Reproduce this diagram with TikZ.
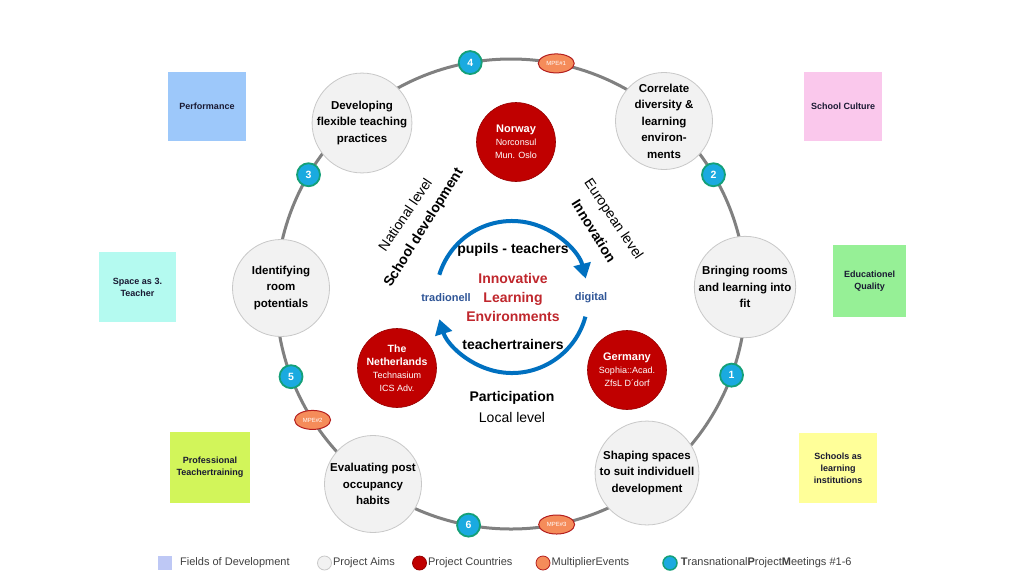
\documentclass[tikz,border=0pt]{standalone}
\usepackage{fontspec}
\setmainfont{Liberation Sans}
\usetikzlibrary{positioning,arrows.meta,shapes.geometric}

\definecolor{ringgray}{RGB}{128,128,128}
\definecolor{aimfill}{RGB}{242,242,242}
\definecolor{aimedge}{RGB}{200,200,200}
\definecolor{landred}{RGB}{192,0,0}
\definecolor{landedge}{RGB}{150,0,0}
\definecolor{cycleblue}{RGB}{0,112,192}
\definecolor{ilered}{RGB}{192,39,45}
\definecolor{poleblue}{RGB}{47,85,151}
\definecolor{tpmfill}{RGB}{26,170,224}
\definecolor{tpmedge}{RGB}{20,160,120}
\definecolor{mpefill}{RGB}{245,140,90}
\definecolor{mpeedge}{RGB}{180,30,30}
\definecolor{fieldtext}{RGB}{25,25,50}
\definecolor{legendtext}{RGB}{64,64,64}
\definecolor{perfblue}{RGB}{157,200,250}
\definecolor{cultpink}{RGB}{250,200,236}
\definecolor{spacecyan}{RGB}{180,250,240}
\definecolor{qualgreen}{RGB}{150,240,150}
\definecolor{proflime}{RGB}{210,245,90}
\definecolor{schoolyellow}{RGB}{255,255,153}
\definecolor{legfield}{RGB}{190,200,245}

\newcommand{\fs}[2]{\fontsize{#1}{#2}\selectfont}

\begin{document}
\begin{tikzpicture}[x=1pt, y=-1pt,
  aim/.style={circle, fill=aimfill, draw=aimedge, line width=0.8pt, minimum size=97pt,
    inner sep=0pt, align=center, font=\fs{11.5}{16.5}\bfseries},
  land/.style={circle, fill=landred, draw=landedge, line width=0.6pt, minimum size=79pt,
    inner sep=0pt, align=center, text=white, font=\fs{9}{13}},
  tpm/.style={circle, fill=tpmfill, draw=tpmedge, line width=1.8pt, minimum size=23pt,
    inner sep=0pt, text=white, font=\fs{10.5}{11}\bfseries},
  mpe/.style={ellipse, fill=mpefill, draw=mpeedge, line width=1pt, minimum width=36pt,
    minimum height=19pt, inner sep=0pt, text=white, font=\fs{6}{6}},
  field/.style={rectangle, inner sep=0pt, align=center, text=fieldtext, font=\fs{9}{12}\bfseries},
  cycle/.style={cycleblue, line width=4pt, -{Triangle[length=15pt, width=17pt]}},
  level/.style={font=\fs{14}{16}, inner sep=0pt},
  levelbf/.style={font=\fs{14}{16}\bfseries, inner sep=0pt},
  legtxt/.style={text=legendtext, font=\fs{11}{13}, inner sep=0pt, anchor=west},
  legdot/.style={circle, minimum size=14pt, inner sep=0pt, line width=0.8pt},
]
  \useasboundingbox[fill=white] (0,0) rectangle (1024,576);
  \def\Rad{235}

  % --- outer ring ---
  \coordinate (ringc) at (511,294);
  \draw[ringgray, line width=3pt] (ringc) circle (\Rad);

  % --- fields of development ---
  \node[field, fill=perfblue, minimum width=78pt, minimum height=69pt] (fperf) at (207,106.5) {Performance};
  \node[field, fill=cultpink, minimum width=78pt, minimum height=69pt] (fcult) at (843,106.5) {School Culture};
  \node[field, fill=spacecyan, minimum width=77pt, minimum height=70pt] (fspace) at (137.5,287) {Space as 3.\\Teacher};
  \node[field, fill=qualgreen, minimum width=73pt, minimum height=72pt] (fqual) at (869.5,281) {Educationel\\Quality};
  \node[field, fill=proflime, minimum width=80pt, minimum height=71pt] (fprof) at (210,467.5) {Professional\\Teachertraining};
  \node[field, fill=schoolyellow, minimum width=78pt, minimum height=70pt] (fschool) at (838,468) {Schools as\\learning\\institutions};

  % --- project aims ---
  \node[aim] (aimdev)   at (362,123) {Developing\\flexible teaching\\practices};
  \node[aim] (aimcorr)  at (664,121) {Correlate\\diversity \&\\learning\\environ-\\ments};
  \node[aim] (aimfit)   at (745,287) {Bringing rooms\\and learning into\\fit};
  \node[aim] (aimshape) at (647,473) {Shaping spaces\\to suit individuell\\development};
  \node[aim] (aimeval)  at (373,484) {Evaluating post\\occupancy\\habits};
  \node[aim] (aimroom)  at (281,288) {Identifying\\room\\potentials};

  % --- transnational project meetings ---
  \node[tpm] (tpm1) at ([shift={(20.2:\Rad)}]ringc) {1};
  \node[tpm] (tpm2) at ([shift={(-30.5:\Rad)}]ringc) {2};
  \node[tpm] (tpm3) at ([shift={(-149.5:\Rad)}]ringc) {3};
  \node[tpm] (tpm4) at ([shift={(-100:\Rad)}]ringc) {4};
  \node[tpm] (tpm5) at ([shift={(159.4:\Rad)}]ringc) {5};
  \node[tpm] (tpm6) at ([shift={(100.4:\Rad)}]ringc) {6};

  % --- multiplier events ---
  \node[mpe] (mpe1) at ([shift={(-78.9:\Rad)}]ringc) {MPE\#1};
  \node[mpe] (mpe2) at ([shift={(147.6:\Rad)}]ringc) {MPE\#2};
  \node[mpe] (mpe3) at ([shift={(78.8:\Rad)}]ringc) {MPE\#3};

  % --- project countries ---
  \node[land] (norway) at (516,142)
    {{\fs{11}{14}\bfseries Norway}\\Norconsul\\Mun. Oslo};
  \node[land] (nether) at (397,368)
    {{\fs{10.5}{14}\bfseries The}\\{\fs{10.5}{14}\bfseries Netherlands}\\Technasium\\ICS Adv.};
  \node[land] (germany) at (627,370)
    {{\fs{11}{14}\bfseries Germany}\\Sophia::Acad.\\ZfsL D´dorf};

  % --- innovation cycle ---
  \coordinate (cyc) at (512,297);
  \draw[cycle] ([shift={(-163:76)}]cyc) arc[start angle=-163, end angle=-14, radius=76];
  \draw[cycle] ([shift={(15:76)}]cyc) arc[start angle=15, end angle=163, radius=76];

  \node[align=center, text=ilered, font=\fs{14}{19}\bfseries] (ile) at (513,297)
    {Innovative\\Learning\\Environments};
  \node[levelbf] (pupils) at (513,250) {pupils - teachers};
  \node[levelbf] (trainers) at (513,344) {teachertrainers};
  \node[text=poleblue, font=\fs{11}{13}\bfseries, inner sep=0pt] (trad) at (446,298) {tradionell};
  \node[text=poleblue, font=\fs{11}{13}\bfseries, inner sep=0pt] (digit) at (591,298) {digital};

  % --- levels ---
  \node[level, rotate=56] (natl) at (405,214.5) {National level};
  \node[levelbf, rotate=58] (schooldev) at (424,228) {School development};
  \node[level, rotate=-56] (europ) at (613,219.5) {European level};
  \node[levelbf, rotate=-58] (innov) at (594,231) {Innovation};
  \node[levelbf] (partic) at (512,398) {Participation};
  \node[level] (local) at (512,417) {Local level};

  % --- legend ---
  \node[rectangle, fill=legfield, minimum size=14pt, inner sep=0pt] (lgfield) at (164.5,563) {};
  \node[legtxt] (lgfieldt) at (180,563) {Fields of Development};
  \node[legdot, fill=aimfill, draw=aimedge] (lgaim) at (324.5,563) {};
  \node[legtxt, right=1pt of lgaim] (lgaimt) {Project Aims};
  \node[legdot, fill=landred, draw=landedge] (lgland) at (419.5,563) {};
  \node[legtxt, right=1pt of lgland] (lglandt) {Project Countries};
  \node[legdot, fill=mpefill, draw=mpeedge] (lgmpe) at (543,563) {};
  \node[legtxt, right=1pt of lgmpe] (lgmpet) {MultiplierEvents};
  \node[legdot, fill=tpmfill, draw=tpmedge, line width=1.5pt] (lgtpm) at (670,563) {};
  \node[legtxt, right=3pt of lgtpm] (lgtpmt)
    {{\bfseries T}ransnational{\bfseries P}roject{\bfseries M}eetings \#1-6};

\end{tikzpicture}
\end{document}
